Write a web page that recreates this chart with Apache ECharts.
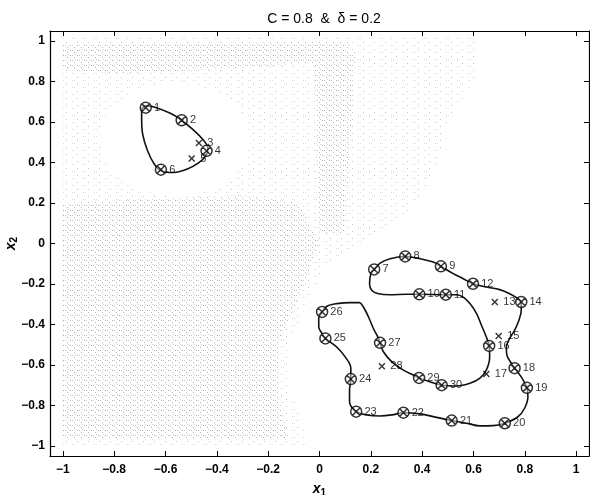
<!DOCTYPE html>
<html>
<head>
<meta charset="utf-8">
<script src="https://cdn.jsdelivr.net/npm/echarts@6/dist/echarts.min.js"></script>
<style>
  html, body { margin: 0; padding: 0; background: #fff; }
  #main { width: 590px; height: 495px; }
</style>
</head>
<body>
<div id="main"></div>
<script>
// axis ticks
const ticks = [-1, -0.8, -0.6, -0.4, -0.2, 0, 0.2, 0.4, 0.6, 0.8, 1];

// left (small) contour
const leftContour = [
  [-0.693, 0.664], [-0.677, 0.680], [-0.644, 0.675], [-0.579, 0.642], [-0.537, 0.609],
  [-0.495, 0.565], [-0.456, 0.516], [-0.435, 0.471], [-0.443, 0.433], [-0.470, 0.400],
  [-0.515, 0.368], [-0.567, 0.351], [-0.618, 0.360], [-0.644, 0.393], [-0.670, 0.458],
  [-0.689, 0.540], [-0.693, 0.622], [-0.693, 0.664]
];

// right (big) contour
const rightContour = [
  [0.213, -0.128], [0.236, -0.097], [0.275, -0.075], [0.334, -0.064], [0.392, -0.075],
  [0.443, -0.092], [0.473, -0.113], [0.521, -0.149], [0.560, -0.174], [0.598, -0.199],
  [0.650, -0.215], [0.702, -0.228], [0.741, -0.248], [0.773, -0.272], [0.786, -0.289],
  [0.786, -0.330], [0.777, -0.379], [0.760, -0.429], [0.741, -0.469], [0.728, -0.511],
  [0.730, -0.552], [0.748, -0.593], [0.760, -0.616], [0.786, -0.659], [0.808, -0.713],
  [0.812, -0.757], [0.799, -0.814], [0.773, -0.856], [0.722, -0.888], [0.676, -0.900],
  [0.624, -0.901], [0.573, -0.888], [0.515, -0.875], [0.456, -0.859], [0.391, -0.842],
  [0.327, -0.836], [0.282, -0.847], [0.236, -0.852], [0.184, -0.847], [0.143, -0.831],
  [0.117, -0.782], [0.117, -0.724], [0.122, -0.670], [0.122, -0.615], [0.100, -0.560],
  [0.070, -0.515], [0.045, -0.490], [0.023, -0.469], [0.010, -0.445], [-0.003, -0.412],
  [-0.003, -0.371], [0.010, -0.338], [0.029, -0.310], [0.068, -0.297], [0.120, -0.292],
  [0.156, -0.292], [0.171, -0.314], [0.191, -0.363], [0.210, -0.420], [0.230, -0.469],
  [0.236, -0.491], [0.249, -0.535], [0.282, -0.585], [0.327, -0.626], [0.365, -0.650],
  [0.388, -0.664], [0.430, -0.683], [0.476, -0.700], [0.534, -0.704], [0.586, -0.691],
  [0.624, -0.667], [0.650, -0.626], [0.663, -0.560], [0.661, -0.506], [0.650, -0.462],
  [0.631, -0.404], [0.612, -0.346], [0.586, -0.297], [0.560, -0.265], [0.534, -0.253],
  [0.492, -0.253], [0.389, -0.251], [0.340, -0.251], [0.275, -0.253], [0.230, -0.248],
  [0.204, -0.232], [0.195, -0.199], [0.200, -0.149], [0.213, -0.128]
];

// circled points [x, y, label]
const circledPts = [
  [-0.677, 0.671, '1'], [-0.537, 0.609, '2'], [-0.440, 0.458, '4'], [-0.618, 0.365, '6'],
  [0.213, -0.128, '7'], [0.334, -0.064, '8'], [0.473, -0.113, '9'], [0.389, -0.251, '10'],
  [0.492, -0.253, '11'], [0.598, -0.199, '12'], [0.786, -0.289, '14'], [0.661, -0.506, '16'],
  [0.760, -0.616, '18'], [0.808, -0.713, '19'], [0.722, -0.888, '20'], [0.515, -0.875, '21'],
  [0.327, -0.836, '22'], [0.143, -0.831, '23'], [0.122, -0.670, '24'], [0.023, -0.469, '25'],
  [0.010, -0.338, '26'], [0.236, -0.491, '27'], [0.388, -0.664, '29'], [0.476, -0.700, '30']
];

// cross points [x, y, label]
const crossPts = [
  [-0.470, 0.496, '3'], [-0.498, 0.420, '5'], [0.683, -0.289, '13'],
  [0.698, -0.457, '15'], [0.650, -0.645, '17'], [0.243, -0.606, '28']
];

// gray noise background zones
const lightZone = [
  [-1.0, 1.02], [0.62, 1.02], [0.6, 0.8], [0.5, 0.6], [0.45, 0.35], [0.35, 0.15],
  [0.15, 0.0], [0.02, -0.12], [-0.05, -0.3], [-0.12, -0.5], [-0.12, -0.7],
  [-0.06, -0.9], [-0.05, -1.0], [-1.0, -1.0]
];
const denseZones = [
  [[-1.0, 0.2], [-0.3, 0.24], [-0.08, 0.2], [0.0, 0.0], [-0.06, -0.2], [-0.16, -0.5],
   [-0.16, -0.75], [-0.12, -0.97], [-1.0, -0.97]],
  [[-1.0, 0.98], [0.12, 1.0], [0.1, 0.9], [-0.4, 0.86], [-0.8, 0.84], [-1.0, 0.86]],
  [[-0.02, 0.95], [0.14, 0.95], [0.12, 0.5], [0.1, 0.05], [0.0, 0.05]]
];
const holeZone = [
  [-0.265, 0.515], [-0.305, 0.66], [-0.41, 0.76], [-0.565, 0.80], [-0.72, 0.76],
  [-0.825, 0.66], [-0.865, 0.515], [-0.825, 0.37], [-0.72, 0.27], [-0.565, 0.225],
  [-0.41, 0.27], [-0.305, 0.37]
];

function makeTile(w, h, dots) {
  const c = document.createElement('canvas');
  c.width = w; c.height = h;
  const ctx = c.getContext('2d');
  ctx.fillStyle = '#fff';
  ctx.fillRect(0, 0, w, h);
  dots.forEach(function (d) {
    ctx.fillStyle = d[2];
    ctx.fillRect(d[0], d[1], 1, 1);
  });
  return { image: c, repeat: 'repeat' };
}

const lightFill = makeTile(11, 7, [[0, 0, '#c4c4c4'], [6, 3, '#d6d6d6'], [8, 3, '#e0e0e0']]);
const denseFill = makeTile(7, 5, [[0, 0, '#b0b0b0'], [2, 0, '#c8c8c8'], [4, 2, '#b8b8b8'], [5, 4, '#d4d4d4']]);

function zoneSeries(pts, fill) {
  return {
    type: 'custom',
    silent: true,
    z: 1,
    clip: true,
    data: [[0, 0]],
    renderItem: function (params, api) {
      return {
        type: 'polygon',
        shape: { points: pts.map(function (p) { return api.coord(p); }) },
        style: { fill: fill, stroke: null }
      };
    }
  };
}

const fmt = function (v) {
  return String(Math.round(v * 10) / 10).replace('-', '\u2212');
};

const circlePath = 'path://M0,10 A10,10 0 1,1 20,10 A10,10 0 1,1 0,10 Z M3,3 L17,17 M17,3 L3,17';
const crossPath = 'path://M0,0 L10,10 M10,0 L0,10';

const font = 'Liberation Sans, Arial, sans-serif';

const chart = echarts.init(document.getElementById('main'), null, { renderer: 'canvas' });

const labelOpt = {
  show: true,
  position: 'right',
  distance: 2,
  fontSize: 11,
  fontFamily: font,
  color: '#000',
  formatter: function (p) { return p.value[2]; }
};

const axisCommon = {
  type: 'value', min: -1.05, max: 1.05,
  axisLine: { onZero: false, lineStyle: { color: '#000', width: 1.2 } },
  axisTick: { inside: true, length: 5, customValues: ticks, lineStyle: { color: '#000' } },
  splitLine: { show: false }
};

const nameRich = {
  a: { fontSize: 14, fontStyle: 'italic', fontWeight: 'bold', fontFamily: font, color: '#000', lineHeight: 14 },
  b: { fontSize: 10, fontWeight: 'bold', fontFamily: font, color: '#000', lineHeight: 14, padding: [7, 0, 0, 0] }
};

const option = {
  animation: false,
  backgroundColor: '#fff',
  title: {
    text: 'C = 0.8  &  \u03b4 = 0.2',
    left: 319,
    textAlign: 'center',
    top: 7,
    textStyle: { fontSize: 14, fontWeight: 'normal', color: '#000', fontFamily: font }
  },
  grid: { left: 50, right: 1, top: 31, bottom: 39, outerBoundsMode: 'none', containLabel: false },
  xAxis: [
    Object.assign({}, axisCommon, {
      position: 'bottom',
      axisLabel: { customValues: ticks, formatter: fmt, color: '#000', fontSize: 12, fontWeight: 'bold', fontFamily: font, margin: 8 },
      name: '{a|x}{b|1}',
      nameLocation: 'middle',
      nameGap: 22,
      nameTextStyle: { rich: nameRich }
    }),
    Object.assign({}, axisCommon, { position: 'top', axisLabel: { show: false } })
  ],
  yAxis: [
    Object.assign({}, axisCommon, {
      position: 'left',
      axisLabel: { customValues: ticks, formatter: fmt, color: '#000', fontSize: 12, fontWeight: 'bold', fontFamily: font, margin: 5 },
      name: '{a|x}{b|2}',
      nameLocation: 'middle',
      nameGap: 32,
      nameMoveOverlap: false,
      nameRotate: 90,
      nameTextStyle: { rich: nameRich }
    }),
    Object.assign({}, axisCommon, { position: 'right', axisLabel: { show: false } })
  ],
  series: [
    zoneSeries(lightZone, lightFill)
  ].concat(denseZones.map(function (z) { return zoneSeries(z, denseFill); }))
   .concat([
    zoneSeries(holeZone, '#ffffff'),
    {
      type: 'line', data: leftContour, smooth: 0.35, showSymbol: false, z: 2,
      lineStyle: { color: '#111', width: 1.6 }
    },
    {
      type: 'line', data: rightContour, smooth: 0.35, showSymbol: false, z: 2,
      lineStyle: { color: '#111', width: 1.6 }
    },
    {
      type: 'scatter', data: circledPts, symbol: circlePath, symbolSize: 11, z: 3,
      itemStyle: { color: 'rgba(255,255,255,0.6)', borderColor: '#000', borderWidth: 1.5 },
      label: labelOpt
    },
    {
      type: 'scatter', data: crossPts, symbol: crossPath, symbolSize: 6, z: 3,
      itemStyle: { color: 'none', borderColor: '#000', borderWidth: 1.4 },
      label: Object.assign({}, labelOpt, { distance: 3 })
    }
  ])
};

chart.setOption(option);
</script>
</body>
</html>
